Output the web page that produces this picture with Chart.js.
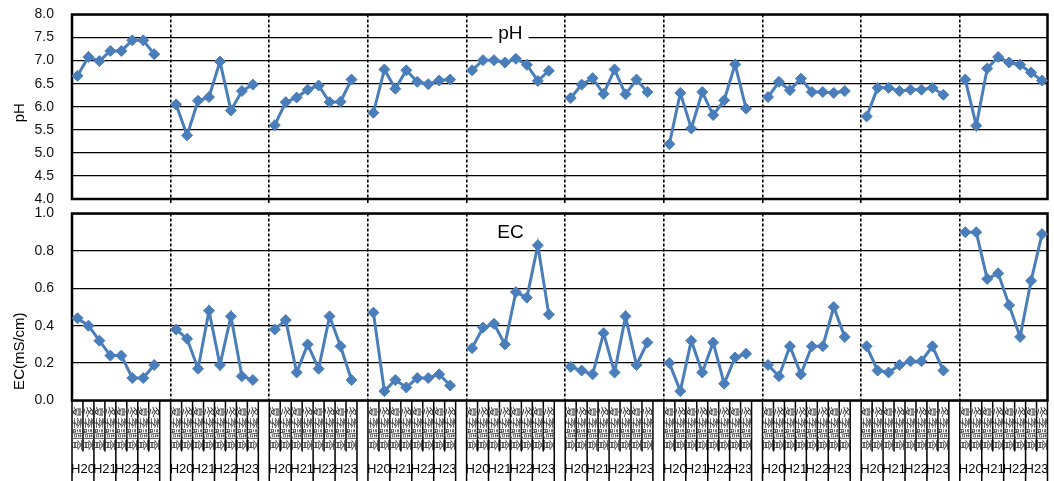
<!DOCTYPE html>
<html>
<head>
<meta charset="utf-8">
<script src="https://cdn.jsdelivr.net/npm/chart.js@4/dist/chart.umd.min.js"></script>
<style>
  html, body { margin: 0; padding: 0; background: #fff; }
  #wrap { position: relative; width: 1054px; height: 481px; overflow: hidden; }
  #phBox { position: absolute; left: 0; top: 0; width: 1054px; height: 208px; }
  #ecBox { position: absolute; left: 0; top: 203px; width: 1054px; height: 278px; background: #fff; z-index: 1; }
</style>
</head>
<body>
<div id="wrap">
  <div id="phBox"><canvas id="phChart"></canvas></div>
  <div id="ecBox"><canvas id="ecChart"></canvas></div>
</div>
<script>
Chart.defaults.font.family = '"Liberation Sans", Arial, sans-serif';
Chart.defaults.color = '#000';

// two samplings a year, H20..H23, for each of the 10 sites
const years = ['H20', 'H21', 'H22', 'H23'];
const seasons = ['夏季調査', '冬季調査'];

const ph1 = [6.67, 7.08, 6.99, 7.21, 7.21, 7.44, 7.44, 7.14];
const ph2 = [6.05, 5.38, 6.13, 6.21, 6.98, 5.92, 6.34, 6.48];
const ph3 = [5.60, 6.10, 6.20, 6.37, 6.46, 6.10, 6.11, 6.59];
const ph4 = [5.87, 6.81, 6.39, 6.79, 6.54, 6.49, 6.57, 6.59];
const ph5 = [6.79, 7.01, 7.01, 6.96, 7.04, 6.91, 6.56, 6.78];
const ph6 = [6.19, 6.48, 6.62, 6.28, 6.81, 6.27, 6.59, 6.32];
const ph7 = [5.19, 6.30, 5.53, 6.32, 5.82, 6.14, 6.92, 5.96];
const ph8 = [6.21, 6.54, 6.36, 6.61, 6.32, 6.32, 6.30, 6.34];
const ph9 = [5.79, 6.41, 6.41, 6.34, 6.37, 6.37, 6.41, 6.26];
const ph10 = [6.59, 5.59, 6.83, 7.08, 6.96, 6.91, 6.74, 6.57];

const ec1 = [0.44, 0.40, 0.32, 0.24, 0.24, 0.12, 0.12, 0.19];
const ec2 = [0.38, 0.33, 0.17, 0.48, 0.19, 0.45, 0.13, 0.11];
const ec3 = [0.38, 0.43, 0.15, 0.30, 0.17, 0.45, 0.29, 0.11];
const ec4 = [0.47, 0.05, 0.11, 0.07, 0.12, 0.12, 0.14, 0.08];
const ec5 = [0.28, 0.39, 0.41, 0.30, 0.58, 0.55, 0.83, 0.46];
const ec6 = [0.18, 0.16, 0.14, 0.36, 0.15, 0.45, 0.19, 0.31];
const ec7 = [0.20, 0.05, 0.32, 0.15, 0.31, 0.09, 0.23, 0.25];
const ec8 = [0.19, 0.13, 0.29, 0.14, 0.29, 0.29, 0.50, 0.34];
const ec9 = [0.29, 0.16, 0.15, 0.19, 0.21, 0.21, 0.29, 0.16];
const ec10 = [0.90, 0.90, 0.65, 0.68, 0.51, 0.34, 0.64, 0.89];

const phGroups = [ph1, ph2, ph3, ph4, ph5, ph6, ph7, ph8, ph9, ph10];
const ecGroups = [ec1, ec2, ec3, ec4, ec5, ec6, ec7, ec8, ec9, ec10];

const BLUE = '#4A7EBB';
const SLOTS = 9; // 8 samples + an empty slot between sites

const labels = [], phData = [], ecData = [];
phGroups.forEach((grp, g) => {
  grp.forEach((v, i) => {
    labels.push(seasons[i % 2]);
    phData.push(v);
    ecData.push(ecGroups[g][i]);
  });
  if (g < phGroups.length - 1) {
    labels.push('');
    phData.push(null);
    ecData.push(null);
  }
});

// box, panel title and rotated axis title
const panelDecor = {
  id: 'panelDecor',
  beforeDatasetsDraw(chart, args, o) {
    const { ctx, chartArea: a, scales: { x, y } } = chart;
    ctx.save();
    ctx.strokeStyle = '#000';
    ctx.lineWidth = 2.5;
    ctx.strokeRect(a.left, a.top, a.right - a.left, a.bottom - a.top);

    ctx.font = '19px "Liberation Sans", Arial, sans-serif';
    ctx.textAlign = 'center';
    ctx.textBaseline = 'middle';
    const tx = x.getPixelForValue(o.titleAt);
    const ty = y.getPixelForValue(o.titleY);
    const w = ctx.measureText(o.title).width + 12;
    ctx.fillStyle = '#fff';
    ctx.fillRect(tx - w / 2, ty - 9, w, 18);
    ctx.fillStyle = '#000';
    ctx.fillText(o.title, tx, ty);

    ctx.font = '15px "Liberation Sans", Arial, sans-serif';
    ctx.translate(20, y.getPixelForValue(o.axisTitleY));
    ctx.rotate(-Math.PI / 2);
    ctx.fillText(o.axisTitle, 0, 0);
    ctx.restore();
  }
};

// ticks, rotated sample labels and year row under the EC panel
const categoryAxis = {
  id: 'categoryAxis',
  afterDraw(chart) {
    const { ctx, chartArea: a, scales: { x } } = chart;
    const edge = i => x.getPixelForValue(i - 0.5);
    const n = labels.length;
    ctx.save();
    ctx.strokeStyle = '#000';
    ctx.lineWidth = 1.5;
    ctx.beginPath();
    for (let i = 0; i <= n; i++) {
      ctx.moveTo(edge(i), a.bottom);
      ctx.lineTo(edge(i), a.bottom + 51);
    }
    phGroups.forEach((grp, g) => {
      const start = g * SLOTS;
      const ks = g < phGroups.length - 1 ? [0, 2, 4, 6, 8, 9] : [0, 2, 4, 6, 8];
      ks.forEach(k => {
        ctx.moveTo(edge(start + k), a.bottom);
        ctx.lineTo(edge(start + k), chart.height);
      });
    });
    ctx.stroke();

    ctx.fillStyle = '#333';
    ctx.font = '11px "Noto Sans CJK JP", sans-serif';
    ctx.textAlign = 'left';
    ctx.textBaseline = 'middle';
    labels.forEach((lab, i) => {
      if (!lab) return;
      ctx.save();
      ctx.translate(x.getPixelForValue(i), a.bottom + 6);
      ctx.rotate(Math.PI / 2);
      ctx.fillText(lab, 0, 0);
      ctx.restore();
    });

    ctx.fillStyle = '#000';
    ctx.font = '13px "Liberation Sans", Arial, sans-serif';
    ctx.textAlign = 'center';
    phGroups.forEach((grp, g) => {
      years.forEach((yr, k) => {
        const cx = (edge(g * SLOTS + 2 * k) + edge(g * SLOTS + 2 * k + 2)) / 2;
        ctx.fillText(yr, cx, a.bottom + 69);
      });
    });
    ctx.restore();
  }
};

function xScale(drawTicks) {
  return {
    type: 'category',
    offset: true,
    afterFit(s) { s.height = 0; },
    ticks: { display: false },
    border: { display: false, dash: [3, 2] },
    grid: {
      offset: true,
      lineWidth: 1.6,
      drawTicks: drawTicks,
      tickLength: 4,
      color: c => (c.index > 0 && c.index % SLOTS === 0) ? '#000' : 'transparent'
    }
  };
}

function yScale(min, max, step) {
  return {
    min: min,
    max: max,
    afterFit(s) { s.width = 72; },
    border: { display: false },
    // invisible tick marks push the labels away from the axis
    grid: { color: '#000', lineWidth: 1.3, drawTicks: true, tickLength: 18, tickColor: 'transparent' },
    ticks: {
      stepSize: step,
      padding: 0,
      font: { size: 14 },
      color: '#111',
      callback: v => Number(v).toFixed(1)
    }
  };
}

function series(data) {
  return {
    data: data,
    borderColor: BLUE,
    backgroundColor: BLUE,
    borderWidth: 3,
    pointStyle: 'rectRot',
    pointRadius: 5.5,
    pointBorderWidth: 1,
    spanGaps: false
  };
}

new Chart(document.getElementById('phChart'), {
  type: 'line',
  data: { labels: labels, datasets: [series(phData)] },
  plugins: [panelDecor],
  options: {
    responsive: true,
    maintainAspectRatio: false,
    animation: false,
    events: [],
    layout: { padding: { left: 0, right: 4.5, top: 14.5, bottom: 9 } },
    plugins: {
      legend: { display: false },
      tooltip: { enabled: false },
      panelDecor: { title: 'pH', titleAt: 39.5, titleY: 7.58, axisTitle: 'pH', axisTitleY: 5.87 }
    },
    scales: { x: xScale(true), y: yScale(4, 8, 0.5) }
  }
});

new Chart(document.getElementById('ecChart'), {
  type: 'line',
  data: { labels: labels, datasets: [series(ecData)] },
  plugins: [panelDecor, categoryAxis],
  options: {
    responsive: true,
    maintainAspectRatio: false,
    animation: false,
    events: [],
    layout: { padding: { left: 0, right: 4.5, top: 10.5, bottom: 80.5 } },
    plugins: {
      legend: { display: false },
      tooltip: { enabled: false },
      panelDecor: { title: 'EC', titleAt: 39.5, titleY: 0.897, axisTitle: 'EC(mS/cm)', axisTitleY: 0.264 }
    },
    scales: { x: xScale(false), y: yScale(0, 1, 0.2) }
  }
});
</script>
</body>
</html>
